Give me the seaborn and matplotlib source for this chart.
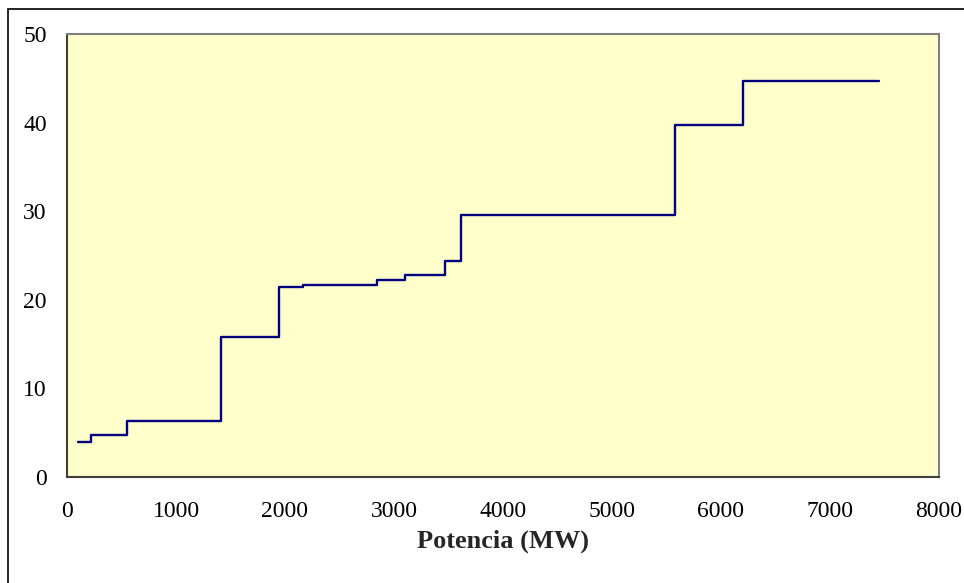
import matplotlib
matplotlib.use("Agg")
import matplotlib.pyplot as plt
import seaborn as sns
import pandas as pd
from matplotlib.patches import Rectangle

# Cumulative capacity (MW) where each step starts, and the cost level of that step
potencia_mw = [100, 217, 547, 1413, 1942, 2162, 2841, 3098, 3465, 3612, 5575, 6199, 7450]
coste = [4.0, 4.75, 6.3, 15.8, 21.5, 21.7, 22.2, 22.8, 24.4, 29.6, 39.7, 44.7, 44.7]

x_ticks = [0, 1000, 2000, 3000, 4000, 5000, 6000, 7000, 8000]
y_ticks = [0, 10, 20, 30, 40, 50]

sns.set_theme(style="white")
plt.rcParams["font.family"] = ["Liberation Serif", "DejaVu Serif"]

df = pd.DataFrame({"Potencia": potencia_mw, "Coste": coste})

fig = plt.figure(figsize=(9.64, 5.83), dpi=100)
ax = fig.add_axes([67 / 964, 1 - 477 / 583, (939 - 67) / 964, (477 - 34) / 583])
ax.set_facecolor("#FFFFCC")

sns.lineplot(data=df, x="Potencia", y="Coste", ax=ax, color="#000080",
             linewidth=1.7, drawstyle="steps-post", estimator=None, sort=False)

ax.set_xlim(0, 8000)
ax.set_ylim(0, 50)
ax.set_xticks(x_ticks)
ax.set_yticks(y_ticks)
ax.set_xticklabels([str(t) for t in x_ticks])
ax.set_yticklabels([str(t) for t in y_ticks])
ax.tick_params(axis="both", which="major", direction="out", length=6.5, width=1,
               color="#404040", labelsize=17, labelcolor="black")
ax.tick_params(axis="x", pad=11)
ax.tick_params(axis="y", pad=8)

for side in ["left", "bottom"]:
    ax.spines[side].set_color("#404040")
    ax.spines[side].set_linewidth(1.5)
for side in ["top", "right"]:
    ax.spines[side].set_color("#808080")
    ax.spines[side].set_linewidth(1.5)
    ax.spines[side].set_visible(True)

ax.set_xlabel("Potencia (MW)", fontsize=19, fontweight="bold", labelpad=5)
ax.set_ylabel("")

# Chart-area frame
fig.patches.append(Rectangle((8 / 964, -0.05), 1.2, 1 - 9 / 583 + 0.05,
                             transform=fig.transFigure, fill=False,
                             edgecolor="black", linewidth=1.2, zorder=-1))

fig.savefig("out.png", dpi=100, facecolor="white")
